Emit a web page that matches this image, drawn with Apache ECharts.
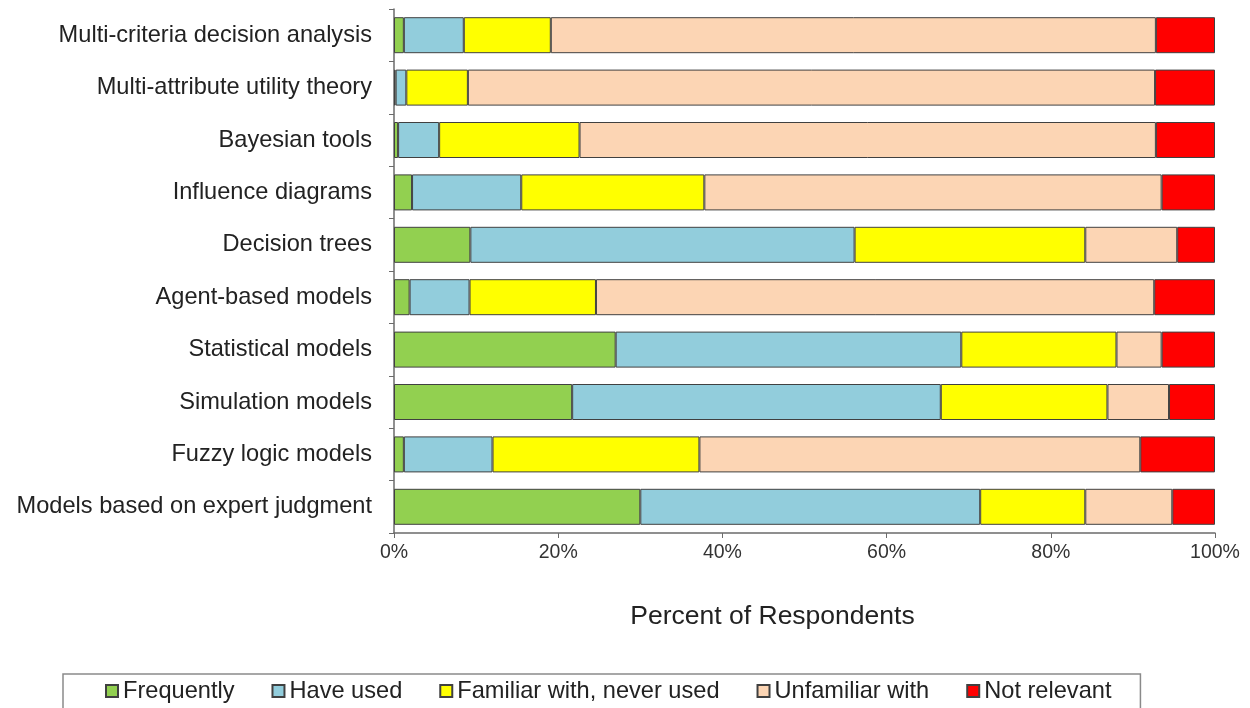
<!DOCTYPE html>
<html>
<head>
<meta charset="utf-8">
<script src="https://cdn.jsdelivr.net/npm/echarts@6/dist/echarts.min.js"></script>
<style>
html,body{margin:0;padding:0;background:#fff;}
#chart{width:1250px;height:708px;}
</style>
</head>
<body>
<div id="chart"></div>
<script>
const categories = [
  "Multi-criteria decision analysis",
  "Multi-attribute utility theory",
  "Bayesian tools",
  "Influence diagrams",
  "Decision trees",
  "Agent-based models",
  "Statistical models",
  "Simulation models",
  "Fuzzy logic models",
  "Models based on expert judgment"
];
const seriesNames = ["Frequently", "Have used", "Familiar with, never used", "Unfamiliar with", "Not relevant"];
const frequently = [1.2, 0.2, 0.5, 2.2, 9.3, 1.9, 27.0, 21.7, 1.2, 30.0];
const haveUsed   = [7.3, 1.3, 5.0, 13.3, 46.8, 7.3, 42.1, 44.9, 10.8, 41.4];
const familiar   = [10.6, 7.5, 17.1, 22.3, 28.1, 15.4, 18.9, 20.3, 25.2, 12.8];
const unfamiliar = [73.7, 83.7, 70.2, 55.7, 11.2, 68.0, 5.5, 7.5, 53.7, 10.6];
const notRelevant= [7.2, 7.3, 7.2, 6.5, 4.6, 7.4, 6.5, 5.6, 9.1, 5.2];
const xTicks = [0, 20, 40, 60, 80, 100];

const colors = ["#92D050", "#92CDDC", "#FFFF00", "#FCD5B4", "#FF0000"];
const dataSets = [frequently, haveUsed, familiar, unfamiliar, notRelevant];

const chart = echarts.init(document.getElementById('chart'), null, {renderer: 'canvas'});
const font = "'Liberation Sans', Arial, sans-serif";

chart.setOption({
  animation: false,
  backgroundColor: '#ffffff',
  textStyle: {fontFamily: font},
  grid: {left: 394, right: 35, top: 9, bottom: 175, containLabel: false},
  xAxis: {
    type: 'value',
    min: 0, max: 100, interval: 20,
    axisLine: {show: true, lineStyle: {color: '#6b6b6b', width: 1.5}},
    axisTick: {show: true, length: 5, lineStyle: {color: '#6b6b6b'}},
    splitLine: {show: false},
    axisLabel: {
      color: '#333', fontSize: 19.5, margin: 10, fontFamily: font,
      formatter: v => xTicks.includes(v) ? v + '%' : ''
    },
    name: 'Percent of Respondents',
    nameLocation: 'middle',
    nameGap: 70,
    nameTextStyle: {color: '#222', fontSize: 26.5, fontFamily: font, padding: [0, 64, 0, 0]}
  },
  yAxis: {
    type: 'category',
    data: categories,
    inverse: true,
    axisLine: {show: true, lineStyle: {color: '#6b6b6b', width: 1.5}},
    axisTick: {show: true, length: 5, lineStyle: {color: '#6b6b6b'}},
    axisLabel: {color: '#222', fontSize: 23.6, margin: 22, fontFamily: font}
  },
  legend: {
    left: 63, top: 674,
    padding: [5, 29, 20, 42],
    borderColor: '#8a8a8a', borderWidth: 1.5,
    itemWidth: 12, itemHeight: 12, itemGap: 37,
    icon: 'rect',
    textStyle: {color: '#222', fontSize: 23.6, fontFamily: font},
    data: seriesNames
  },
  series: seriesNames.map((name, i) => ({
    name: name,
    type: 'bar',
    stack: 'total',
    barWidth: 36,
    data: dataSets[i],
    itemStyle: {color: colors[i], borderColor: '#404040', borderWidth: 1}
  }))
});
</script>
</body>
</html>
